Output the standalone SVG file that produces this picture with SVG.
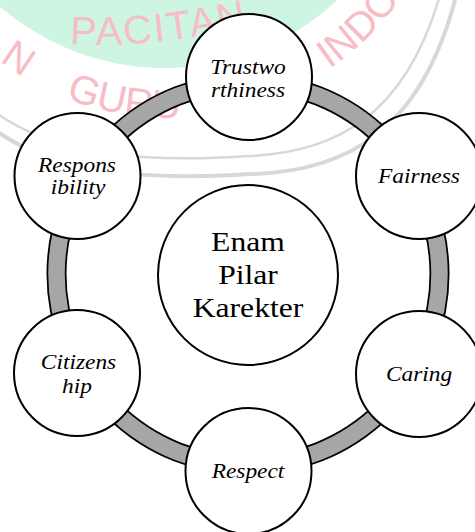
<svg xmlns="http://www.w3.org/2000/svg" width="475" height="532" viewBox="0 0 475 532">
<style>
.node circle{fill:#fff;stroke:#000;stroke-width:2}
.lbl{font-family:"Liberation Serif","Times New Roman",serif;font-style:italic;font-size:20px;text-anchor:middle;fill:#000}
.ctr{font-family:"Liberation Serif","Times New Roman",serif;font-size:28px;text-anchor:middle;fill:#000}
.wm{font-family:"Liberation Sans",Arial,sans-serif;font-size:40px;fill:#f7bcc5}
.wl{fill:none;stroke:#d8d8d8}
</style>
<defs>
<path id="wmArc" d="M -46.8,16.9 A 283 283 0 0 0 435.9,-68.2"/>
<path id="wmTop" d="M 70,44 Q 150,49 250,26"/>
</defs>
<rect width="475" height="532" fill="#fff"/>
<g id="watermark">
<circle cx="165" cy="-185" r="253" fill="#cdf5e1"/>
<path class="wl" stroke-width="2.5" d="M -5,112 C 60,160 160,162 250,156 C 335,152 405,117 440,-5"/>
<path class="wl" stroke-width="4" d="M -5,130 C 60,177 160,180 250,174 C 345,172 420,132 455,0"/>
<text class="wm" letter-spacing="2"><textPath href="#wmTop">PACITAN</textPath></text>
<text class="wm"><textPath href="#wmArc" startOffset="64">N</textPath></text>
<text class="wm"><textPath href="#wmArc" startOffset="140">GURU</textPath></text>
<text class="wm"><textPath href="#wmArc" startOffset="416">INDO</textPath></text>
</g>
<g id="connectors">
<circle cx="248" cy="274" r="191.5" fill="none" stroke="#000" stroke-width="20"/>
<circle cx="248" cy="274" r="191.5" fill="none" stroke="#a6a6a6" stroke-width="16.5"/>
</g>
<g id="center" class="node">
<circle cx="248" cy="275" r="90"/>
<text class="ctr" transform="translate(248,251) scale(1.13,1)">Enam</text>
<text class="ctr" transform="translate(248,284) scale(1.13,1)">Pilar</text>
<text class="ctr" transform="translate(248,317) scale(1.13,1)">Karekter</text>
</g>
<g id="trustworthiness" class="node">
<circle cx="249" cy="77" r="63"/>
<text class="lbl" transform="translate(248,74) scale(1.17,1)">Trustwo</text>
<text class="lbl" transform="translate(248,97.3) scale(1.17,1)">rthiness</text>
</g>
<g id="fairness" class="node">
<circle cx="419" cy="176" r="63"/>
<text class="lbl" transform="translate(419,183.3) scale(1.17,1)">Fairness</text>
</g>
<g id="caring" class="node">
<circle cx="419" cy="374" r="63"/>
<text class="lbl" transform="translate(419,381) scale(1.17,1)">Caring</text>
</g>
<g id="respect" class="node">
<circle cx="248.5" cy="471" r="63"/>
<text class="lbl" transform="translate(248,478.3) scale(1.17,1)">Respect</text>
</g>
<g id="citizenship" class="node">
<circle cx="77" cy="373" r="63"/>
<text class="lbl" transform="translate(78.5,369) scale(1.17,1)">Citizens</text>
<text class="lbl" transform="translate(77,393) scale(1.17,1)">hip</text>
</g>
<g id="responsibility" class="node">
<circle cx="77.5" cy="176" r="63"/>
<text class="lbl" transform="translate(77,171.7) scale(1.17,1)">Respons</text>
<text class="lbl" transform="translate(78,194) scale(1.17,1)">ibility</text>
</g>
</svg>
